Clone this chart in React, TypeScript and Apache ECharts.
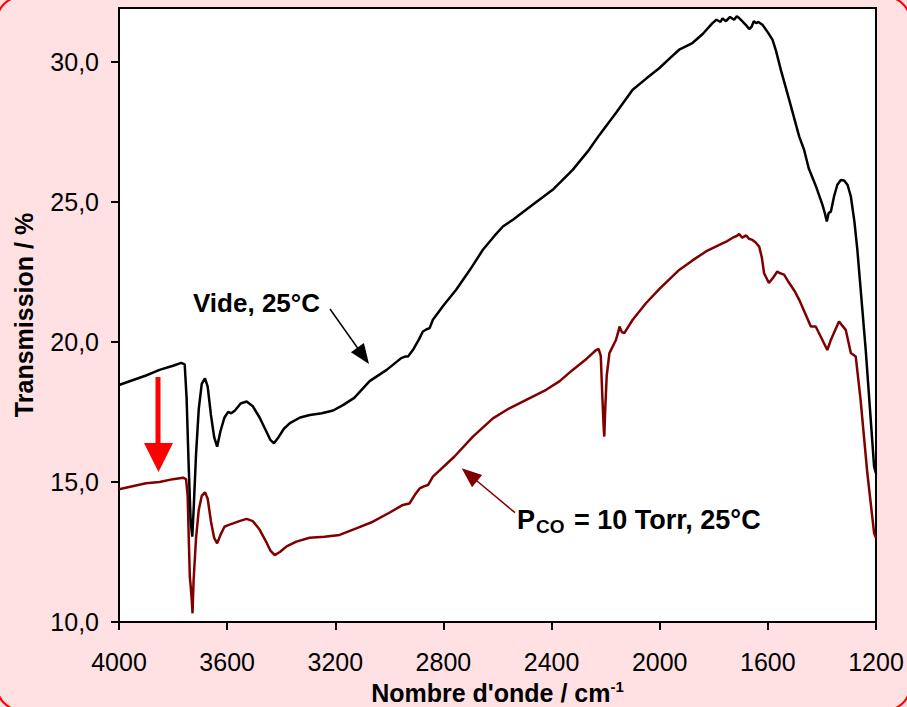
import React, { useEffect, useRef } from "react";
import * as echarts from "echarts";

// Wavenumbers (cm-1) and transmission (%) — "Vide, 25°C"
const videX = [4000, 3900, 3850, 3800, 3770, 3757, 3750, 3742, 3735, 3729, 3724, 3715, 3705, 3694, 3682, 3672, 3660, 3648, 3637, 3625, 3610, 3596, 3585, 3571, 3550, 3528, 3505, 3480, 3455, 3440, 3427, 3410, 3390, 3368, 3330, 3294, 3250, 3208, 3170, 3130, 3073, 3010, 2956, 2940, 2931, 2913, 2890, 2876, 2862, 2851, 2839, 2800, 2753, 2700, 2654, 2610, 2580, 2543, 2470, 2396, 2322, 2266, 2223, 2160, 2100, 2050, 2002, 1960, 1928, 1879, 1840, 1805, 1790, 1775, 1768, 1755, 1740, 1725, 1715, 1706, 1695, 1680, 1669, 1660, 1652, 1644, 1635, 1620, 1600, 1583, 1570, 1552, 1521, 1484, 1466, 1449, 1420, 1398, 1388, 1382, 1375, 1367, 1355, 1343, 1330, 1318, 1305, 1293, 1280, 1269, 1238, 1207, 1200];
const videY = [18.46, 18.8, 19.0, 19.15, 19.25, 19.2, 18.0, 15.5, 13.6, 13.05, 14.0, 16.0, 17.6, 18.5, 18.7, 18.4, 17.4, 16.6, 16.26, 16.8, 17.3, 17.5, 17.45, 17.55, 17.8, 17.87, 17.7, 17.3, 16.8, 16.5, 16.38, 16.6, 16.9, 17.1, 17.3, 17.39, 17.45, 17.55, 17.75, 18.0, 18.6, 19.0, 19.42, 19.48, 19.48, 19.71, 20.1, 20.37, 20.45, 20.49, 20.79, 21.3, 21.86, 22.6, 23.29, 23.8, 24.12, 24.36, 24.9, 25.43, 26.14, 26.8, 27.39, 28.2, 29.0, 29.4, 29.77, 30.15, 30.43, 30.67, 31.0, 31.38, 31.5, 31.42, 31.55, 31.45, 31.6, 31.5, 31.62, 31.56, 31.45, 31.3, 31.17, 31.25, 31.45, 31.38, 31.42, 31.32, 31.05, 30.79, 30.4, 29.71, 28.64, 27.33, 26.86, 26.2, 25.5, 24.89, 24.55, 24.3, 24.6, 24.65, 25.2, 25.61, 25.78, 25.76, 25.6, 25.19, 24.3, 23.29, 19.71, 15.55, 15.3];

// "P_CO = 10 Torr, 25°C"
const pcoX = [4000, 3900, 3850, 3800, 3763, 3752, 3746, 3742, 3738, 3735, 3731, 3728, 3724, 3715, 3705, 3694, 3682, 3672, 3660, 3648, 3637, 3625, 3610, 3596, 3578, 3555, 3528, 3505, 3480, 3455, 3440, 3424, 3405, 3380, 3344, 3295, 3240, 3184, 3120, 3061, 3000, 2950, 2930, 2925, 2905, 2888, 2870, 2857, 2839, 2760, 2691, 2617, 2556, 2490, 2420, 2370, 2322, 2270, 2235, 2226, 2218, 2212, 2207, 2205, 2202, 2196, 2186, 2162, 2152, 2149, 2140, 2131, 2100, 2051, 2000, 1928, 1880, 1829, 1768, 1750, 1730, 1715, 1706, 1695, 1680, 1670, 1657, 1645, 1632, 1622, 1614, 1596, 1580, 1565, 1555, 1540, 1521, 1500, 1484, 1441, 1423, 1380, 1367, 1337, 1312, 1293, 1275, 1257, 1232, 1207, 1200];
const pcoY = [14.74, 14.95, 15.0, 15.1, 15.15, 15.1, 14.5, 13.0, 11.6, 11.3, 10.8, 10.31, 11.5, 13.0, 14.0, 14.5, 14.63, 14.4, 13.6, 13.0, 12.81, 13.1, 13.4, 13.46, 13.52, 13.6, 13.68, 13.6, 13.3, 12.85, 12.55, 12.39, 12.5, 12.7, 12.87, 13.01, 13.04, 13.11, 13.35, 13.58, 13.9, 14.18, 14.22, 14.24, 14.55, 14.77, 14.85, 14.89, 15.19, 15.9, 16.62, 17.27, 17.63, 17.95, 18.29, 18.6, 19.0, 19.4, 19.71, 19.75, 19.5, 18.0, 16.9, 16.62, 17.5, 18.8, 19.6, 20.07, 20.4, 20.55, 20.35, 20.31, 20.79, 21.38, 21.9, 22.57, 22.9, 23.23, 23.52, 23.6, 23.72, 23.78, 23.85, 23.72, 23.8, 23.68, 23.64, 23.55, 23.4, 23.0, 22.45, 22.1, 22.3, 22.51, 22.45, 22.4, 22.1, 21.8, 21.5, 20.55, 20.55, 19.71, 20.07, 20.73, 20.43, 19.6, 19.48, 17.93, 15.31, 13.17, 13.0];

const yTicks = [10, 15, 20, 25, 30];
const xTicks = [4000, 3600, 3200, 2800, 2400, 2000, 1600, 1200];

const FONT = "'Liberation Sans', Arial, sans-serif";

export default function App() {
  const ref = useRef<HTMLDivElement>(null);
  useEffect(() => {
    if (!ref.current) return;
    const chart = echarts.init(ref.current, null, { renderer: "svg" });
    const videData = videX.map((x, i) => [x, videY[i]]);
    const pcoData = pcoX.map((x, i) => [x, pcoY[i]]);
    chart.setOption({
      animation: false,
      backgroundColor: "#FFE1E4",
      textStyle: { fontFamily: FONT },
      grid: {
        left: 119,
        right: 31,
        top: 8,
        bottom: 85,
        outerBoundsMode: "none",
        containLabel: false,
        show: true,
        backgroundColor: "#ffffff",
        borderColor: "#000",
        borderWidth: 2,
      },
      xAxis: {
        type: "value",
        min: 1200,
        max: 4000,
        interval: 400,
        inverse: true,
        name: "Nombre d'onde / cm{sup|-1}",
        nameLocation: "middle",
        nameGap: 57,
        nameTextStyle: {
          fontFamily: FONT,
          fontSize: 25,
          fontWeight: "bold",
          color: "#000",
          rich: {
            sup: { fontFamily: FONT, fontSize: 15, fontWeight: "bold", color: "#000", verticalAlign: "top", padding: [0, 0, 12, 0] },
          },
        },
        axisLine: { show: true, lineStyle: { color: "#000", width: 2 } },
        axisTick: { show: true, inside: false, length: 8, lineStyle: { color: "#000", width: 2 } },
        axisLabel: {
          fontFamily: FONT,
          fontSize: 25,
          color: "#000",
          margin: 27,
          formatter: (v: number) => (xTicks.includes(v) ? String(v) : ""),
        },
        splitLine: { show: false },
      },
      yAxis: {
        type: "value",
        min: 10,
        max: 31.92,
        interval: 5,
        name: "Transmission / %",
        nameLocation: "middle",
        nameGap: 83,
        nameTextStyle: { fontFamily: FONT, fontSize: 25, fontWeight: "bold", color: "#000" },
        axisLine: { show: true, lineStyle: { color: "#000", width: 2 } },
        axisTick: { show: true, inside: false, length: 8, customValues: yTicks, lineStyle: { color: "#000", width: 2 } },
        axisLabel: {
          fontFamily: FONT,
          fontSize: 25,
          color: "#000",
          margin: 20,
          customValues: yTicks,
          formatter: (v: number) => v.toFixed(1).replace(".", ","),
        },
        splitLine: { show: false },
      },
      series: [
        {
          name: "Vide, 25°C",
          type: "line",
          data: videData,
          showSymbol: false,
          lineStyle: { color: "#000000", width: 2.5 },
          z: 3,
        },
        {
          name: "PCO = 10 Torr, 25°C",
          type: "line",
          data: pcoData,
          showSymbol: false,
          lineStyle: { color: "#800000", width: 2.5 },
          z: 2,
        },
      ],
      graphic: [
        {
          type: "rect",
          shape: { x: -3, y: -3, width: 913, height: 713, r: 24 },
          style: { fill: "none", stroke: "#FF0000", lineWidth: 2 },
          silent: true,
          z: 100,
        },
        {
          type: "text",
          x: 193,
          y: 303,
          style: { text: "Vide, 25°C", font: `bold 26px ${FONT}`, fill: "#000", verticalAlign: "middle", align: "left" },
          z: 10,
        },
        {
          type: "line",
          shape: { x1: 330, y1: 309, x2: 359, y2: 350 },
          style: { stroke: "#000", lineWidth: 1.5 },
          z: 10,
        },
        {
          type: "polygon",
          shape: { points: [[369, 364], [350.9, 352.3], [363.9, 343.1]] },
          style: { fill: "#000" },
          z: 10,
        },
        {
          type: "text",
          x: 517,
          y: 520,
          style: {
            text: "P{sub|CO} = 10 Torr, 25°C",
            font: `bold 27px ${FONT}`,
            fill: "#000",
            verticalAlign: "middle",
            align: "left",
            rich: {
              sub: { font: `bold 19px ${FONT}`, fill: "#000", verticalAlign: "bottom", padding: [12, 2, 0, 1] },
            },
          },
          z: 10,
        },
        {
          type: "line",
          shape: { x1: 515, y1: 512.7, x2: 474, y2: 478.5 },
          style: { stroke: "#800000", lineWidth: 1.5 },
          z: 10,
        },
        {
          type: "polygon",
          shape: { points: [[461.7, 468.3], [482.2, 475.0], [472.0, 487.2]] },
          style: { fill: "#800000" },
          z: 10,
        },
        {
          type: "rect",
          shape: { x: 155.5, y: 377, width: 5, height: 68 },
          style: { fill: "#FF0000" },
          z: 10,
        },
        {
          type: "polygon",
          shape: { points: [[144, 443], [173, 443], [158.5, 472]] },
          style: { fill: "#FF0000" },
          z: 10,
        },
      ],
    });
    return () => chart.dispose();
  }, []);
  return (
    <div
      ref={ref}
      style={{ position: "fixed", left: 0, top: 0, width: 907, height: 707 }}
    />
  );
}
